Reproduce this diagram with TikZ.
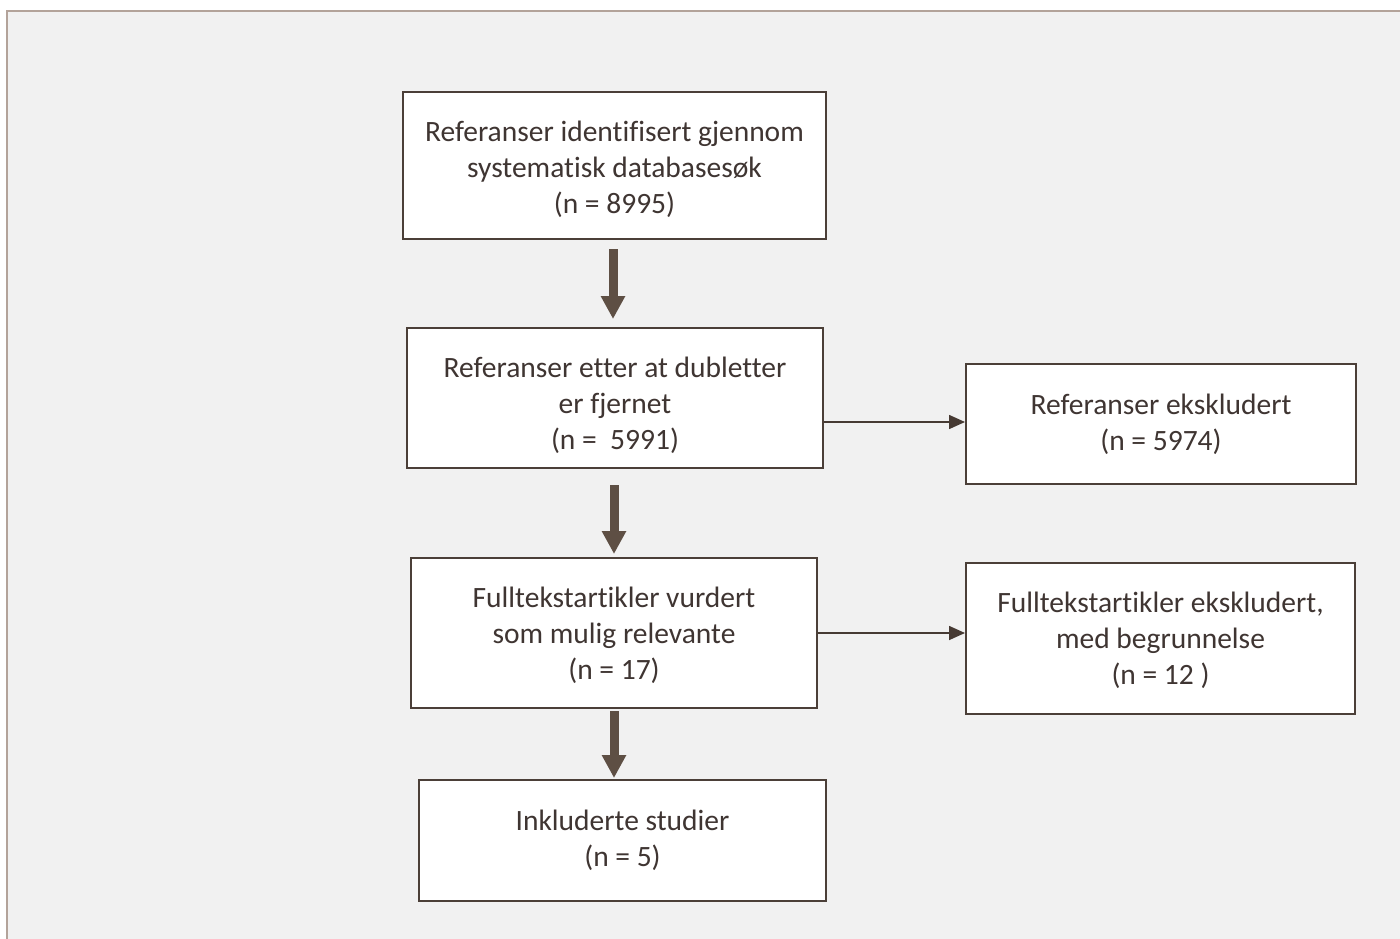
\documentclass[tikz,border=0pt]{standalone}
\usepackage{fontspec}
\setmainfont{Carlito}[Ligatures={NoCommon}]
\usetikzlibrary{arrows.meta}
\definecolor{boxline}{HTML}{4B3F38}
\definecolor{bigarrow}{HTML}{5E4F44}
\definecolor{thinarrow}{HTML}{463A33}
\definecolor{txt}{HTML}{3F3532}
\definecolor{frameline}{HTML}{B3A39A}
\definecolor{bg}{HTML}{F1F1F1}
\begin{document}
\begin{tikzpicture}[x=1pt,y=-1pt,
  flowbox/.style={draw=boxline, line width=2pt, fill=white, inner sep=0pt},
  boxtext/.style={text=txt, align=center, inner sep=0pt, font=\fontsize{29.5}{36}\selectfont},
  bigarr/.style={draw=bigarrow, line width=9pt, -{Triangle[width=23pt,length=23pt]}, bigarrow},
  thinarr/.style={draw=thinarrow, line width=1.6pt, -{Triangle[width=14pt,length=16pt]}, thinarrow}
]
\useasboundingbox (0,0) rectangle (1400,939);
\fill[white] (0,0) rectangle (1400,939);
\fill[bg] (7,11) rectangle (1400,939);
\draw[frameline, line width=2pt] (7,939) -- (7,11) -- (1400,11);

\node[flowbox, minimum width=423pt, minimum height=147pt] (b1) at (614.5,165.5) {};
\node[flowbox, minimum width=416pt, minimum height=140pt] (b2) at (615,398) {};
\node[flowbox, minimum width=390pt, minimum height=120pt] (b3) at (1161,424) {};
\node[flowbox, minimum width=406pt, minimum height=150pt] (b4) at (614,633) {};
\node[flowbox, minimum width=389pt, minimum height=151pt] (b5) at (1160.5,638.5) {};
\node[flowbox, minimum width=407pt, minimum height=121pt] (b6) at (622.5,840.5) {};

\node[boxtext] (t1) at ([yshift=-4pt]b1.center)
  {Referanser identifisert gjennom\\systematisk databasesøk\\(n = 8995)};
\node[boxtext] (t2) at ([yshift=-7pt]b2.center)
  {Referanser etter at dubletter\\er fjernet\\(n =\ \ 5991)};
\node[boxtext] (t3) at (b3.center)
  {Referanser ekskludert\\(n = 5974)};
\node[boxtext] (t4) at ([yshift=-2pt]b4.center)
  {Fulltekstartikler vurdert\\som mulig relevante\\(n = 17)};
\node[boxtext] (t5) at ([yshift=-2pt]b5.center)
  {Fulltekstartikler ekskludert,\\med begrunnelse\\(n = 12 )};
\node[boxtext] (t6) at ([yshift=0.5pt]b6.center)
  {Inkluderte studier\\(n = 5)};

\draw[bigarr, shorten <=9pt, shorten >=8pt] (b1.south -| 613,0) -- (b2.north -| 613,0);
\draw[bigarr, shorten <=16pt, shorten >=3pt] (b2.south -| 614,0) -- (b4.north -| 614,0);
\draw[bigarr, shorten <=2pt, shorten >=1pt] (b4.south) -- (b4.south |- b6.north);

\draw[thinarr] (b2.east |- 0,422) -- (b3.west |- 0,422);
\draw[thinarr] (b4.east) -- (b4.east -| b5.west);
\end{tikzpicture}
\end{document}
